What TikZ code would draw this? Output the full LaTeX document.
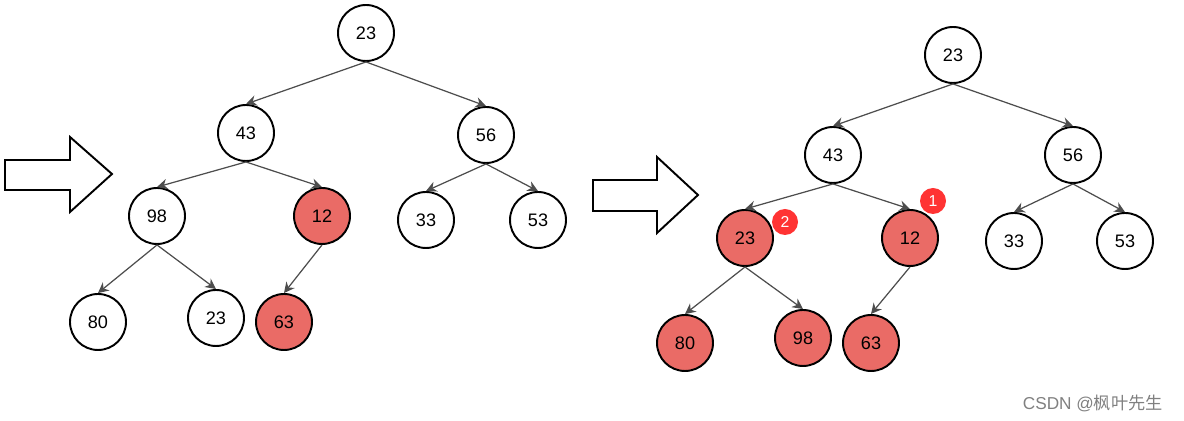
\documentclass[tikz,border=0pt]{standalone}
\usepackage{fontspec}
\setmainfont{Liberation Sans}
\newfontfamily\cjkfont{Noto Sans CJK SC}
\usetikzlibrary{arrows.meta, positioning}
\definecolor{heapred}{HTML}{EA6B66}
\definecolor{badgered}{HTML}{FF3333}
\definecolor{edgegray}{HTML}{4D4D4D}
\tikzset{
    key/.style={circle, draw=black, line width=1.1pt, fill=white, minimum size=1.12cm,
        inner sep=0pt, font=\fontsize{10.3}{12}\selectfont}, % a heap element
    moved/.style={key, fill=heapred}, % element that was swapped
    badge/.style={circle, fill=badgered, text=white, minimum size=0.52cm, inner sep=0pt,
        font=\fontsize{9}{10}\selectfont},
    link/.style={draw=edgegray, line width=0.7pt, -{Stealth[length=6pt,width=6pt]}},
    bigarrow/.style={draw=black, line width=1.1pt, fill=white, line join=miter},
}

\begin{document}
\begin{tikzpicture}[x=0.02cm, y=-0.02cm]
    \useasboundingbox (0,0) rectangle (1184,421);

    % Arrows
    \draw[bigarrow] (5,160) -- (70,160) -- (70,137) -- (112,174) -- (70,212)
        -- (70,190) -- (5,190) -- cycle;
    \draw[bigarrow] (593,180) -- (657,180) -- (657,157) -- (698,195) -- (657,233)
        -- (657,211) -- (593,211) -- cycle;

    % Left tree
    \node[key] (a1) at (366,33) {23};
    \node[key] (a2) at (246,133) {43};
    \node[key] (a3) at (486,135) {56};
    \node[key] (a4) at (157,216) {98};
    \node[moved] (a5) at (322,216) {12};
    \node[key] (a6) at (426,220) {33};
    \node[key] (a7) at (538,220) {53};
    \node[key] (a8) at (98,322) {80};
    \node[key] (a9) at (216,318) {23};
    \node[moved] (a10) at (284,322) {63};

    \path
        (a1.south) edge[link] (a2.north)
                   edge[link] (a3.north)
        (a2.south) edge[link] (a4.north)
                   edge[link] (a5.north)
        (a3.south) edge[link] (a6.north)
                   edge[link] (a7.north)
        (a4.south) edge[link] (a8.north)
                   edge[link] (a9.north)
        (a5.south) edge[link] (a10.north);

    % Right tree
    \node[key] (b1) at (953,55) {23};
    \node[key] (b2) at (833,155) {43};
    \node[key] (b3) at (1073,155) {56};
    \node[moved] (b4) at (745,238) {23};
    \node[moved] (b5) at (910,238) {12};
    \node[key] (b6) at (1014,241) {33};
    \node[key] (b7) at (1125,241) {53};
    \node[moved] (b8) at (685,343) {80};
    \node[moved] (b9) at (803,338) {98};
    \node[moved] (b10) at (871,343) {63};

    \path
        (b1.south) edge[link] (b2.north)
                   edge[link] (b3.north)
        (b2.south) edge[link] (b4.north)
                   edge[link] (b5.north)
        (b3.south) edge[link] (b6.north)
                   edge[link] (b7.north)
        (b4.south) edge[link] (b8.north)
                   edge[link] (b9.north)
        (b5.south) edge[link] (b10.north);

    % Swap order
    \node[badge] (s1) at (933,201) {1};
    \node[badge] (s2) at (785,222) {2};

    \node[text=gray, font=\fontsize{9.8}{11}\selectfont, anchor=east] (mark) at (1169,403)
        {CSDN @{\cjkfont 枫叶先生}};
\end{tikzpicture}
\end{document}
